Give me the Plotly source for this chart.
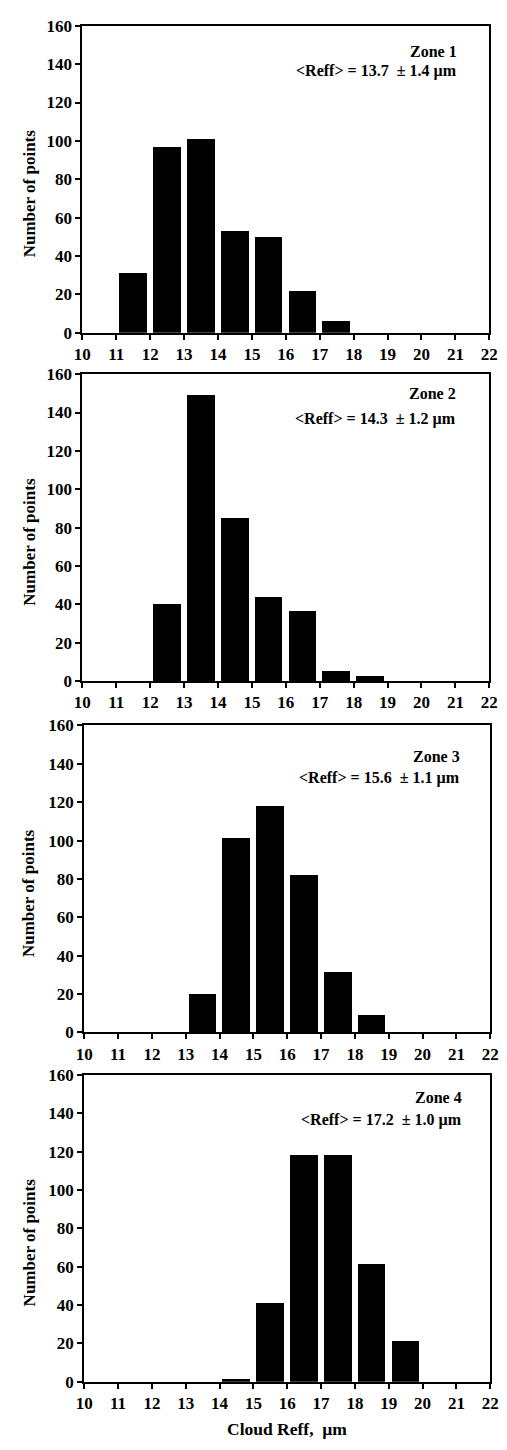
import plotly.graph_objects as go

# Cloud effective radius histograms, one panel per zone
bin_centers = [10.5, 11.5, 12.5, 13.5, 14.5, 15.5, 16.5, 17.5, 18.5, 19.5, 20.5, 21.5]
zone1_counts = [0, 31, 97, 101, 53, 50, 22, 6, 0, 0, 0, 0]
zone2_counts = [0, 0, 40, 149, 85, 44, 36.5, 5, 2.4, 0, 0, 0]
zone3_counts = [0, 0, 0, 20, 101, 118, 82, 31, 9, 0, 0, 0]
zone4_counts = [0, 0, 0, 0, 1.5, 41, 118.5, 118.5, 61.5, 21.3, 0, 0]

zone_names = ["Zone 1", "Zone 2", "Zone 3", "Zone 4"]
zone_means = ["13.7", "14.3", "15.6", "17.2"]
zone_sds = ["1.4", "1.2", "1.1", "1.0"]

x_ticks = list(range(10, 23))
y_ticks = list(range(0, 161, 20))

W, H = 507, 1450
FONT = "Liberation Serif, Times New Roman, serif"

# panel boxes in pixels: (left, right, top, bottom)
panels = [(76, 498, 17, 328), (76, 498, 370, 681), (78, 499, 726, 1037), (78, 499, 1080, 1391)]
# label anchor: right edge, offsets of the two label lines below the panel top
label_pos = [(467, 26, 46), (466, 20, 45), (470, 31, 53), (472, 23, 46)]


def px_x(x):
    return x / W


def px_y(y):
    return 1 - y / H


counts = [zone1_counts, zone2_counts, zone3_counts, zone4_counts]
label_font = dict(family=FONT, size=16, color="black", weight="bold")

fig = go.Figure()
annotations = []
for i, (l, r, t, b) in enumerate(panels):
    n = "" if i == 0 else str(i + 1)
    fig.add_trace(go.Bar(
        x=bin_centers, y=counts[i], width=0.82,
        marker=dict(color="black", line=dict(width=0)),
        xaxis="x" + n, yaxis="y" + n, showlegend=False,
    ))
    axis_common = dict(
        showline=True, linecolor="black", linewidth=2, mirror=True,
        ticks="outside", ticklen=5, tickwidth=1.5, tickcolor="black",
        showgrid=False, zeroline=False,
        tickfont=dict(family=FONT, size=17, color="black", weight="bold"),
    )
    fig.update_layout(**{
        "xaxis" + n: dict(
            domain=[px_x(l), px_x(r)], range=[10, 22], tickvals=x_ticks,
            anchor="y" + n, **axis_common),
        "yaxis" + n: dict(
            domain=[px_y(b), px_y(t)], range=[0, 160], tickvals=y_ticks,
            anchor="x" + n, **axis_common),
    })
    rx, dz, dr = label_pos[i]
    annotations.append(dict(
        text=zone_names[i],
        x=px_x(rx), y=px_y(t + dz), xref="paper", yref="paper",
        xanchor="right", yanchor="middle", showarrow=False, font=label_font,
    ))
    annotations.append(dict(
        text="&lt;Reff&gt; = " + zone_means[i] + "\u00a0\u00a0± " + zone_sds[i] + " µm",
        x=px_x(rx), y=px_y(t + dr), xref="paper", yref="paper",
        xanchor="right", yanchor="middle", showarrow=False, font=label_font,
    ))
    annotations.append(dict(
        text="Number of points", textangle=-90,
        x=px_x(21), y=px_y((t + b) / 2 + 14), xref="paper", yref="paper",
        xanchor="center", yanchor="middle", showarrow=False,
        font=dict(family=FONT, size=17, color="black", weight="bold"),
    ))

annotations.append(dict(
    text="Cloud Reff,\u00a0\u00a0µm",
    x=px_x(288), y=px_y(1439), xref="paper", yref="paper",
    xanchor="center", yanchor="middle", showarrow=False,
    font=dict(family=FONT, size=17.5, color="black", weight="bold"),
))

fig.update_layout(
    width=W, height=H, margin=dict(l=0, r=0, t=0, b=0),
    paper_bgcolor="white", plot_bgcolor="white",
    bargap=0, annotations=annotations,
)

fig.write_html("out.html")
